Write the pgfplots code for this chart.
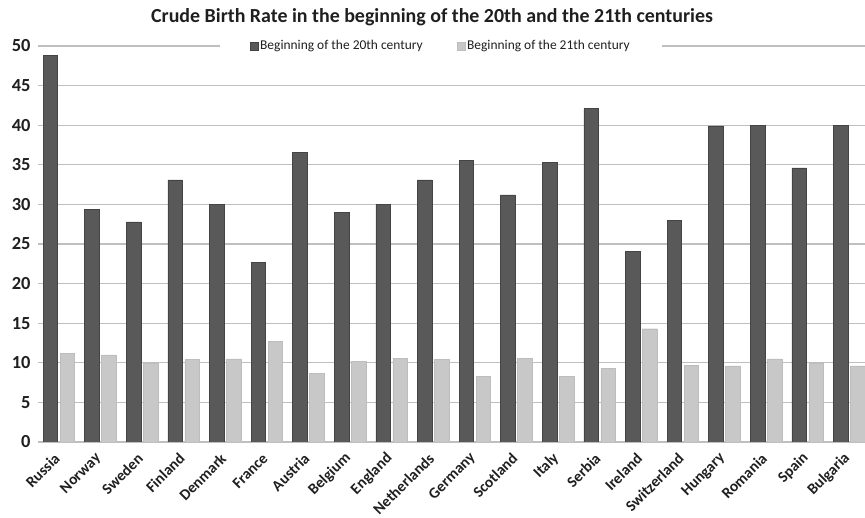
\documentclass[border=0pt]{standalone}
\usepackage{fontspec}
\setmainfont{Carlito}
\usepackage{pgfplots}
\usepackage{pgfplotstable}
\pgfplotsset{compat=1.18}
\definecolor{darkbar}{HTML}{595959}
\definecolor{darkedge}{HTML}{444444}
\definecolor{lightbar}{HTML}{C8C8C8}
\definecolor{lightedge}{HTML}{BDBDBD}
\definecolor{gridc}{HTML}{BFBFBF}
\definecolor{txt}{HTML}{1F1F1F}
\pgfplotstableread{
x c20 c21
0 48.8 11.2
1 29.4 11.0
2 27.8 10.0
3 33.1 10.4
4 30.0 10.5
5 22.7 12.7
6 36.6 8.7
7 29.0 10.2
8 30.0 10.6
9 33.1 10.4
10 35.6 8.3
11 31.2 10.6
12 35.3 8.3
13 42.1 9.3
14 24.1 14.3
15 28.0 9.7
16 39.9 9.6
17 40.0 10.5
18 34.6 9.9
19 40.0 9.6
}\datatable
\begin{document}
\begin{tikzpicture}[x=1bp,y=1bp]
\useasboundingbox (0,0) rectangle (865,518);
\node[font=\bfseries\fontsize{20}{24}\selectfont, text=txt] at (432,501) {Crude Birth Rate in the beginning of the 20th and the 21th centuries};
\begin{axis}[
  at={(38bp,76bp)}, anchor=south west,
  scale only axis, width=827bp, height=396bp,
  xmin=-0.5, xmax=19.38, ymin=0, ymax=50,
  ytick={0,5,...,50},
  xtick={0,...,19},
  xticklabels={Russia,Norway,Sweden,Finland,Denmark,France,Austria,Belgium,England,Netherlands,Germany,Scotland,Italy,Serbia,Ireland,Switzerland,Hungary,Romania,Spain,Bulgaria},
  ymajorgrids, major grid style={draw=gridc, line width=1.3bp},
  axis line style={draw=none}, tick style={draw=none},
  /pgf/number format/assume math mode=true,
  yticklabel style={font=\bfseries\fontsize{18.5}{20}\selectfont, text=txt, xshift=-4bp},
  xticklabel shift=8bp,
  xticklabel style={font=\bfseries\fontsize{15.5}{17}\selectfont, text=txt, rotate=45, anchor=east, xshift=1bp},
  ybar=2.5bp, bar width=14.5bp,
  legend style={at={(0.487,1)}, anchor=center, fill=white, draw=none,
    legend columns=2, font=\fontsize{13.5}{15}\selectfont, text=txt,
    inner xsep=30bp, inner ysep=3bp,
    /tikz/every even column/.append style={column sep=32bp}},
  legend image code/.code={\fill[#1] (0bp,-4bp) rectangle (8bp,4bp);},
]
\addplot[fill=darkbar, draw=darkedge] table[x=x, y=c20] {\datatable};
\addplot[fill=lightbar, draw=lightedge] table[x=x, y=c21] {\datatable};
\legend{Beginning of the 20th century, Beginning of the 21th century}
\end{axis}
\end{tikzpicture}
\end{document}
